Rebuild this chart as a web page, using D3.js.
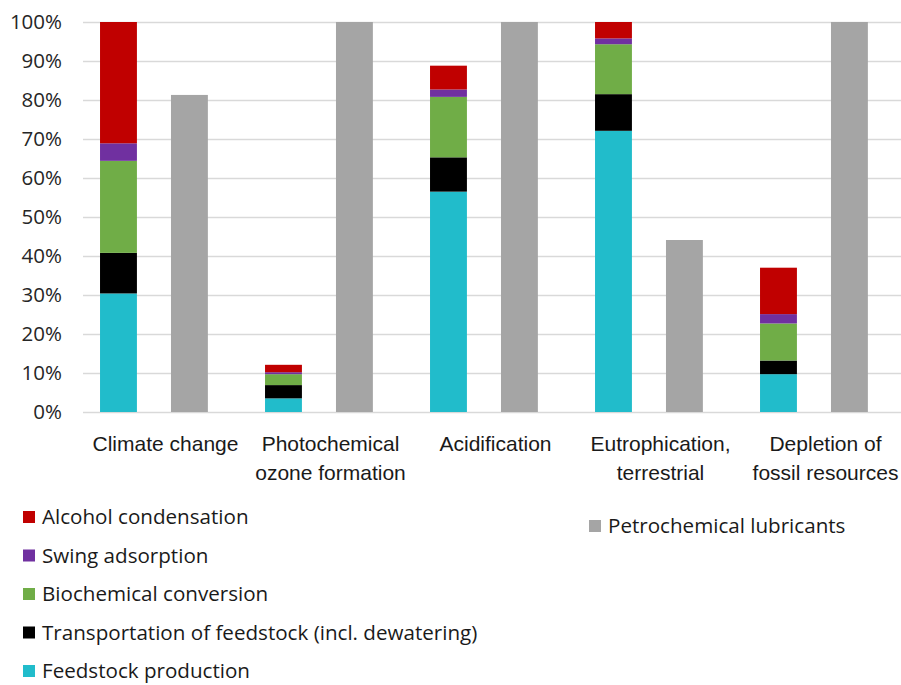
<!DOCTYPE html>
<html>
<head>
<meta charset="utf-8">
<script src="https://cdn.jsdelivr.net/npm/d3@7"></script>
<style>
  html, body { margin: 0; padding: 0; background: #fff; }
  svg { display: block; }
</style>
</head>
<body>
<svg id="chart" width="901" height="685"></svg>
<script>
// ---- data ----
const categories = ["Climate change", "Photochemical\nozone formation", "Acidification", "Eutrophication,\nterrestrial", "Depletion of\nfossil resources"];
const seriesNames = ["Feedstock production", "Transportation of feedstock (incl. dewatering)", "Biochemical conversion", "Swing adsorption", "Alcohol condensation"];
const feedstockProduction = [30.4, 3.5, 56.5, 72.1, 9.7];
const transportation      = [10.4, 3.4, 8.8, 9.4, 3.5];
const biochemical         = [23.6, 2.8, 15.5, 12.8, 9.5];
const swingAdsorption     = [4.5, 0.5, 1.9, 1.5, 2.4];
const alcoholCondensation = [31.1, 1.9, 6.1, 4.2, 11.9];
const petroName = "Petrochemical lubricants";
const petrochemical       = [81.3, 100, 100, 44.1, 100];
const yTicks = [0, 10, 20, 30, 40, 50, 60, 70, 80, 90, 100];

const seriesColors = ["#21BCCB", "#000000", "#70AD47", "#7030A0", "#C00000"];
const petroColor = "#A5A5A5";

// ---- layout ----
const svg = d3.select("#chart");
const plot = { left: 83, right: 908, top: 22, bottom: 412 };

const x = d3.scaleBand().domain(categories).range([plot.left, plot.right]);
const inner = d3.scaleBand().domain(["stack", "petro"])
  .range([0, x.bandwidth() * 0.86]).paddingInner(0.48).paddingOuter(0.24);
const y = d3.scaleLinear().domain([0, 100]).range([plot.bottom, plot.top]);

// gridlines + y labels
const yAxis = d3.axisLeft(y)
  .tickValues(yTicks)
  .tickFormat(d => d + "%")
  .tickSizeInner(-(901 - plot.left))
  .tickSizeOuter(0)
  .tickPadding(21);
const gy = svg.append("g").attr("transform", `translate(${plot.left},0)`).call(yAxis);
gy.select(".domain").remove();
gy.selectAll(".tick line").attr("stroke", "#D9D9D9").attr("stroke-width", 1.3);
gy.selectAll(".tick text")
  .attr("font-family", "'Open Sans', sans-serif")
  .attr("font-size", 20.5)
  .attr("fill", "#262626");

// stacked data
const rows = categories.map((c, i) => {
  const r = { cat: c };
  r[seriesNames[0]] = feedstockProduction[i];
  r[seriesNames[1]] = transportation[i];
  r[seriesNames[2]] = biochemical[i];
  r[seriesNames[3]] = swingAdsorption[i];
  r[seriesNames[4]] = alcoholCondensation[i];
  return r;
});
const stacked = d3.stack().keys(seriesNames)(rows);

svg.append("g").selectAll("g")
  .data(stacked)
  .join("g")
  .attr("fill", (d, i) => seriesColors[i])
  .selectAll("rect")
  .data(d => d)
  .join("rect")
  .attr("x", d => x(d.data.cat) + inner("stack"))
  .attr("width", inner.bandwidth())
  .attr("y", d => y(d[1]))
  .attr("height", d => y(d[0]) - y(d[1]));

svg.append("g").selectAll("rect")
  .data(categories.map((c, i) => ({ cat: c, v: petrochemical[i] })))
  .join("rect")
  .attr("x", d => x(d.cat) + inner("petro"))
  .attr("width", inner.bandwidth())
  .attr("y", d => y(d.v))
  .attr("height", d => y(0) - y(d.v))
  .attr("fill", petroColor);

// category labels
const catG = svg.append("g")
  .attr("font-family", "'Liberation Sans', Arial, sans-serif")
  .attr("font-size", 21)
  .attr("fill", "#1a1a1a")
  .attr("text-anchor", "middle");
categories.forEach(c => {
  const t = catG.append("text")
    .attr("x", x(c) + x.bandwidth() / 2)
    .attr("y", 451);
  c.split("\n").forEach((line, j) => {
    t.append("tspan")
      .attr("x", x(c) + x.bandwidth() / 2)
      .attr("dy", j === 0 ? 0 : 29)
      .text(line);
  });
});

// legend
const legFont = "'Open Sans', sans-serif";
const legend = svg.append("g").attr("font-family", legFont).attr("font-size", 20.6).attr("fill", "#1a1a1a");
const legendOrder = seriesNames.map((n, i) => ({ n, c: seriesColors[i] })).reverse();
legendOrder.forEach((d, i) => {
  const cy = 517 + i * 38.5;
  legend.append("rect").attr("x", 23).attr("y", cy - 6).attr("width", 12).attr("height", 12).attr("fill", d.c);
  legend.append("text").attr("x", 42).attr("y", cy).attr("dy", "0.35em").text(d.n);
});
legend.append("rect").attr("x", 589).attr("y", 520).attr("width", 12).attr("height", 12).attr("fill", petroColor);
legend.append("text").attr("x", 608).attr("y", 526).attr("dy", "0.35em").text(petroName);
</script>
</body>
</html>
